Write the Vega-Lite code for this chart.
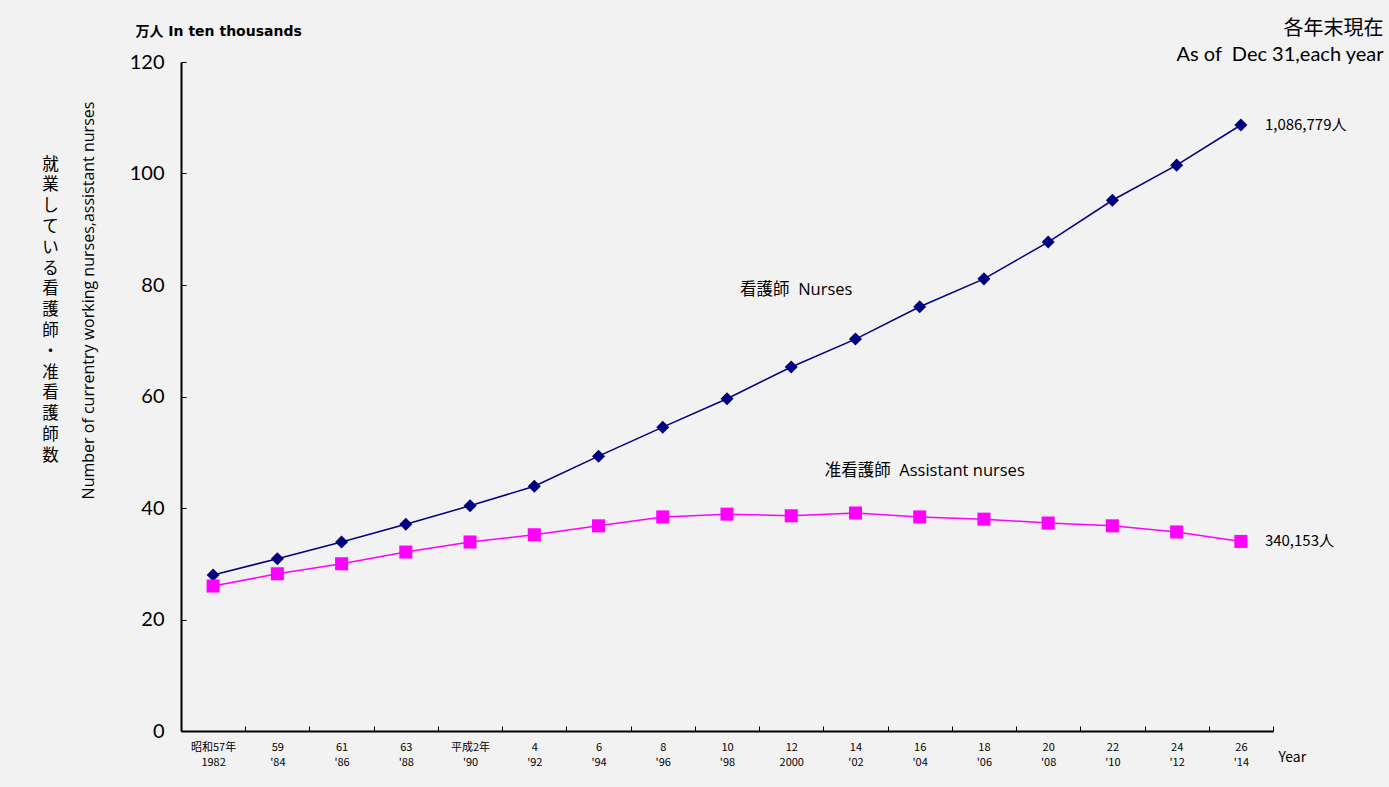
{
  "$schema": "https://vega.github.io/schema/vega-lite/v6.json",
  "width": 1092,
  "height": 669,
  "autosize": {"type": "none"},
  "padding": {"left": 181, "top": 62, "right": 116, "bottom": 56},
  "background": "#f2f2f2",
  "config": {"view": {"stroke": null}, "font": "Noto Sans CJK JP"},
  "datasets": {
    "series": [
      {"period": "昭和57年|1982", "series": "Nurses", "value": 28.0},
      {"period": "59|'84", "series": "Nurses", "value": 30.9},
      {"period": "61|'86", "series": "Nurses", "value": 33.9},
      {"period": "63|'88", "series": "Nurses", "value": 37.1},
      {"period": "平成2年|'90", "series": "Nurses", "value": 40.4},
      {"period": "4|'92", "series": "Nurses", "value": 43.9},
      {"period": "6|'94", "series": "Nurses", "value": 49.3},
      {"period": "8|'96", "series": "Nurses", "value": 54.5},
      {"period": "10|'98", "series": "Nurses", "value": 59.6},
      {"period": "12|2000", "series": "Nurses", "value": 65.3},
      {"period": "14|'02", "series": "Nurses", "value": 70.3},
      {"period": "16|'04", "series": "Nurses", "value": 76.1},
      {"period": "18|'06", "series": "Nurses", "value": 81.1},
      {"period": "20|'08", "series": "Nurses", "value": 87.7},
      {"period": "22|'10", "series": "Nurses", "value": 95.2},
      {"period": "24|'12", "series": "Nurses", "value": 101.5},
      {"period": "26|'14", "series": "Nurses", "value": 108.7},
      {"period": "昭和57年|1982", "series": "Assistant", "value": 26.0},
      {"period": "59|'84", "series": "Assistant", "value": 28.2},
      {"period": "61|'86", "series": "Assistant", "value": 30.0},
      {"period": "63|'88", "series": "Assistant", "value": 32.1},
      {"period": "平成2年|'90", "series": "Assistant", "value": 33.9},
      {"period": "4|'92", "series": "Assistant", "value": 35.2},
      {"period": "6|'94", "series": "Assistant", "value": 36.8},
      {"period": "8|'96", "series": "Assistant", "value": 38.4},
      {"period": "10|'98", "series": "Assistant", "value": 38.9},
      {"period": "12|2000", "series": "Assistant", "value": 38.6},
      {"period": "14|'02", "series": "Assistant", "value": 39.1},
      {"period": "16|'04", "series": "Assistant", "value": 38.4},
      {"period": "18|'06", "series": "Assistant", "value": 38.0},
      {"period": "20|'08", "series": "Assistant", "value": 37.3},
      {"period": "22|'10", "series": "Assistant", "value": 36.8},
      {"period": "24|'12", "series": "Assistant", "value": 35.7},
      {"period": "26|'14", "series": "Assistant", "value": 34.0}
    ],
    "ends": [
      {"period": "26|'14", "value": 108.7, "label": "1,086,779人"},
      {"period": "26|'14", "value": 34.0, "label": "340,153人"}
    ],
    "names": [
      {"period": "12|2000", "value": 79.1, "label": "看護師\u00a0\u00a0Nurses"},
      {"period": "16|'04", "value": 46.6, "label": "准看護師\u00a0\u00a0Assistant nurses"}
    ]
  },
  "resolve": {"axis": {"x": "independent", "y": "independent"}},
  "layer": [
    {
      "data": {"name": "series"},
      "mark": {"type": "line", "strokeWidth": 1.5},
      "encoding": {
        "x": {
          "field": "period", "type": "nominal",
          "scale": {"type": "band", "paddingInner": 0, "paddingOuter": 0,
            "domain": ["昭和57年|1982", "59|'84", "61|'86", "63|'88", "平成2年|'90", "4|'92", "6|'94", "8|'96", "10|'98", "12|2000", "14|'02", "16|'04", "18|'06", "20|'08", "22|'10", "24|'12", "26|'14"]},
          "axis": {
            "orient": "bottom", "title": "Year",
            "labelExpr": "isString(datum.value) ? split(datum.value, '|') : ''", "labelAngle": 0,
            "labelFontSize": 11, "labelLineHeight": 15, "labelPadding": 15, "labelBaseline": "top", "labelColor": "#000",
            "tickBand": "extent", "tickSize": -5, "tickColor": "#000", "tickWidth": 1,
            "domainColor": "#000", "domainWidth": 2,
            "titleFontSize": 14, "titleFontWeight": "normal", "titleColor": "#000",
            "titleX": 1097, "titleY": 26, "titleAlign": "left", "titleBaseline": "middle"
          }
        },
        "y": {
          "field": "value", "type": "quantitative",
          "scale": {"domain": [0, 120], "nice": false},
          "axis": {
            "orient": "left", "values": [0, 20, 40, 60, 80, 100, 120], "grid": false,
            "labelFont": "Lato", "labelFontSize": 20, "labelPadding": 22, "labelColor": "#000",
            "tickSize": -5, "tickColor": "#000", "domainColor": "#000", "domainWidth": 2,
            "title": "Number of currentry working nurses,assistant nurses",
            "titleFont": "Open Sans", "titleFontSize": 16, "titleFontWeight": "normal", "titleColor": "#000",
            "titleX": -93, "titleY": 238, "titleAngle": -90, "titleAlign": "center", "titleBaseline": "middle"
          }
        },
        "color": {"field": "series", "type": "nominal", "scale": {"domain": ["Nurses", "Assistant"], "range": ["#000080", "#ff00ff"]}, "legend": null}
      }
    },
    {
      "data": {"name": "series"},
      "mark": {"type": "point", "filled": true, "opacity": 1, "size": 170},
      "encoding": {
        "x": {
          "field": "period", "type": "nominal",
          "axis": {
            "orient": "top", "domain": false, "ticks": false, "labels": false,
            "title": "万人 In ten thousands", "titleFont": "'DejaVu Sans', 'Noto Sans CJK JP'", "titleFontSize": 14, "titleFontWeight": "bold", "titleColor": "#000",
            "titleX": -46, "titleY": -31, "titleAlign": "left", "titleBaseline": "middle", "titleAngle": 0
          }
        },
        "y": {
          "field": "value", "type": "quantitative",
          "axis": {
            "orient": "left", "domain": false, "ticks": false, "labels": false, "grid": false,
            "title": ["就", "業", "し", "て", "い", "る", "看", "護", "師", "・", "准", "看", "護", "師", "数"],
            "titleAngle": 0, "titleX": -131, "titleY": 102, "titleAlign": "center", "titleBaseline": "middle",
            "titleFontSize": 16.5, "titleLineHeight": 20.8, "titleFontWeight": "normal", "titleColor": "#000"
          }
        },
        "color": {"field": "series", "type": "nominal", "legend": null},
        "shape": {"field": "series", "type": "nominal", "scale": {"domain": ["Nurses", "Assistant"], "range": ["diamond", "square"]}, "legend": null}
      }
    },
    {
      "data": {"name": "ends"},
      "mark": {"type": "text", "align": "left", "baseline": "middle", "dx": 24, "fontSize": 15, "color": "#000"},
      "encoding": {
        "x": {"field": "period", "type": "nominal", "axis": null},
        "y": {
          "field": "value", "type": "quantitative",
          "axis": {
            "orient": "right", "domain": false, "ticks": false, "labels": false, "grid": false,
            "title": ["各年末現在", "As of\u00a0\u00a0Dec 31,each year"],
            "titleFont": "Lato, 'Noto Sans CJK JP'", "titleFontSize": 20, "titleLineHeight": 26, "titleFontWeight": "normal", "titleColor": "#000",
            "titleAngle": 0, "titleX": 110, "titleY": -34, "titleAlign": "right", "titleBaseline": "middle"
          }
        },
        "text": {"field": "label"}
      }
    },
    {
      "data": {"name": "names"},
      "mark": {"type": "text", "align": "center", "baseline": "middle", "dx": 5, "font": "'Open Sans', 'Noto Sans CJK JP'", "fontSize": 16.5, "color": "#000"},
      "encoding": {
        "x": {"field": "period", "type": "nominal", "axis": null},
        "y": {"field": "value", "type": "quantitative", "axis": null},
        "text": {"field": "label"}
      }
    }
  ]
}
